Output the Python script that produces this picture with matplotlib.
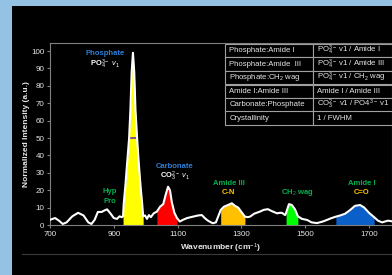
import numpy as np
import matplotlib
matplotlib.use("Agg")
import matplotlib.pyplot as plt
from matplotlib.patches import Rectangle
from matplotlib.lines import Line2D

plt.rcParams['font.family'] = ['Liberation Sans', 'DejaVu Sans']
plt.rcParams['mathtext.fontset'] = 'custom'
plt.rcParams['mathtext.rm'] = 'Liberation Sans'
plt.rcParams['mathtext.it'] = 'Liberation Sans:italic'
plt.rcParams['mathtext.bf'] = 'Liberation Sans:bold'

# spectrum (wavenumber, normalized intensity)
wavenumber = [700, 716, 728, 740, 752, 770, 788, 805, 820, 830, 840, 850, 862, 870, 879,
              890, 900, 910, 918, 925, 929, 931, 936, 942, 948, 952, 956, 960, 964, 968,
              973, 978, 984, 989, 992, 998, 1004, 1010, 1016, 1025, 1035, 1045, 1055, 1062,
              1070, 1076, 1082, 1090, 1098, 1107, 1117, 1130, 1148, 1165, 1176, 1185, 1195,
              1210, 1220, 1235, 1245, 1258, 1270, 1280, 1290, 1300, 1311, 1320, 1327,
              1340, 1358, 1370, 1383, 1395, 1412, 1420, 1427, 1437, 1440, 1449, 1458,
              1468, 1477, 1490, 1506, 1520, 1537, 1555, 1568, 1580, 1596, 1610, 1625,
              1640, 1656, 1672, 1685, 1700, 1716, 1728, 1741, 1750, 1760, 1775]
intensity = [3.0, 4.0, 2.5, 0.6, 1.5, 5.0, 7.0, 5.5, 1.5, 0.6, 3.0, 7.5, 7.5, 8.3, 9.0,
             6.5, 4.0, 3.5, 5.0, 4.5, 5.0, 12, 22, 36, 50, 66, 88, 99, 88, 66,
             50, 36, 22, 12, 5.0, 5.5, 3.5, 5.7, 4.5, 6.7, 7.7, 10.5, 12, 17,
             22, 20, 13, 7, 4, 2, 3, 4, 4.8, 5.5, 5.7, 4, 2.5,
             1, 1.5, 8.6, 10.5, 11.5, 12.5, 11, 10, 7.5, 4.8, 4.5, 4.8,
             6.5, 7.7, 8.7, 9.1, 8, 6.7, 7, 7, 5.7, 7.0, 12, 11.5,
             9, 5, 3.5, 2.9, 1.5, 1.1, 2, 2.9, 3.8, 4.8, 5.5, 6.5,
             8.5, 11, 11.5, 10, 7, 4.5, 2.5, 1.5, 2, 2.5, 2]

bands = [(929, 992, '#ffff00'), (1035, 1098, '#ff0000'), (1235, 1311, '#ffc000'),
         (1440, 1477, '#00ff00'), (1596, 1716, '#0a5fc8')]
fwhm_lo, fwhm_hi = 948, 973

labels = [
    (872, 98.7, 'Phosphate', '#2e7fd9'),
    (872, 92.4, r'PO$_4^{3-}$ $v_1$', 'white'),
    (1092, 33.9, 'Carbonate', '#2e7fd9'),
    (1092, 27.8, r'CO$_3^{2-}$ $v_1$', 'white'),
    (888, 19.1, 'Hyp', '#00b050'),
    (888, 13.4, 'Pro', '#00b050'),
    (1260, 24.0, 'Amide III', '#00b050'),
    (1260, 18.4, 'C-N', '#ffc000'),
    (1474, 18.6, r'CH$_2$ wag', '#00b050'),
    (1678, 24.1, 'Amide I', '#00b050'),
    (1678, 18.4, 'C=O', '#ffc000'),
]

table_rows = [
    ['Phosphate:Amide I', r'PO$_4^{3-}$ v1 / Amide I'],
    ['Phosphate:Amide  III', r'PO$_4^{3-}$ v1 / Amide III'],
    [r'Phosphate:CH$_2$ wag', r'PO$_4^{3-}$ v1 / CH$_2$ wag'],
    ['Amide I:Amide III', 'Amide I / Amide III'],
    ['Carbonate:Phosphate', r'CO$_3^{2-}$ v1 / PO4$^{3-}$ v1'],
    ['Crystallinity', '1 / FWHM'],
]

wn = np.array(wavenumber)
inten = np.array(intensity)

fig = plt.figure(figsize=(3.92, 2.75), dpi=100, facecolor='#94c2e4')
fig.patches.append(Rectangle((12 / 392, 0), 1, 1 - 6 / 275, transform=fig.transFigure,
                             facecolor='black', edgecolor='none', zorder=-10))
fig.add_artist(Line2D([22 / 392, 1], [21 / 275, 21 / 275], color='#3a3a3a', lw=0.8))

ax = fig.add_axes([50 / 392, 50 / 275, 342 / 392, 182 / 275])
ax.set_facecolor('black')

for lo, hi, c in bands:
    m = (wn >= lo) & (wn <= hi)
    ax.fill_between(wn[m], 0, inten[m], color=c, lw=0, zorder=2)
ax.hlines(50, fwhm_lo, fwhm_hi, color='#7030a0', lw=1.2, zorder=3)
ax.plot(wn, inten, color='white', lw=1.5, zorder=4)

for x, y, s, c in labels:
    ax.text(x, y, s, color=c, fontsize=5.5, fontweight='bold', ha='center', va='center')

ax.set_xlim(700, 1772)
ax.set_ylim(0, 104.6)
ax.set_xticks([700, 900, 1100, 1300, 1500, 1700])
ax.set_yticks(range(0, 101, 10))
for sp in ax.spines.values():
    sp.set_color('#808080')
    sp.set_linewidth(0.8)
ax.tick_params(colors='#808080', labelcolor='#e6e6e6', labelsize=5.8, length=2.5, width=0.8, pad=1.5)
ax.set_xlabel('Wavenumber (cm$^{-1}$)', color='#e6e6e6', fontsize=6, fontweight='bold', labelpad=3)
ax.set_ylabel('Normalized Intensity (a.u.)', color='#e6e6e6', fontsize=6, fontweight='bold', labelpad=1)

tb = ax.table(cellText=table_rows, cellLoc='left', colWidths=[0.5, 0.5],
              bbox=[175 / 342, (225 - 125) / 182, 176 / 342, 81 / 182])
tb.auto_set_font_size(False)
tb.set_fontsize(5.6)
for (r, c), cell in tb.get_celld().items():
    cell.set_facecolor('black')
    cell.set_edgecolor('#a0a0a0')
    cell.set_linewidth(0.8)
    cell.PAD = 0.05
    cell.get_text().set_color('#e6e6e6')
tb.set_clip_on(False)

fig.savefig('out.png', dpi=100, facecolor=fig.get_facecolor())
